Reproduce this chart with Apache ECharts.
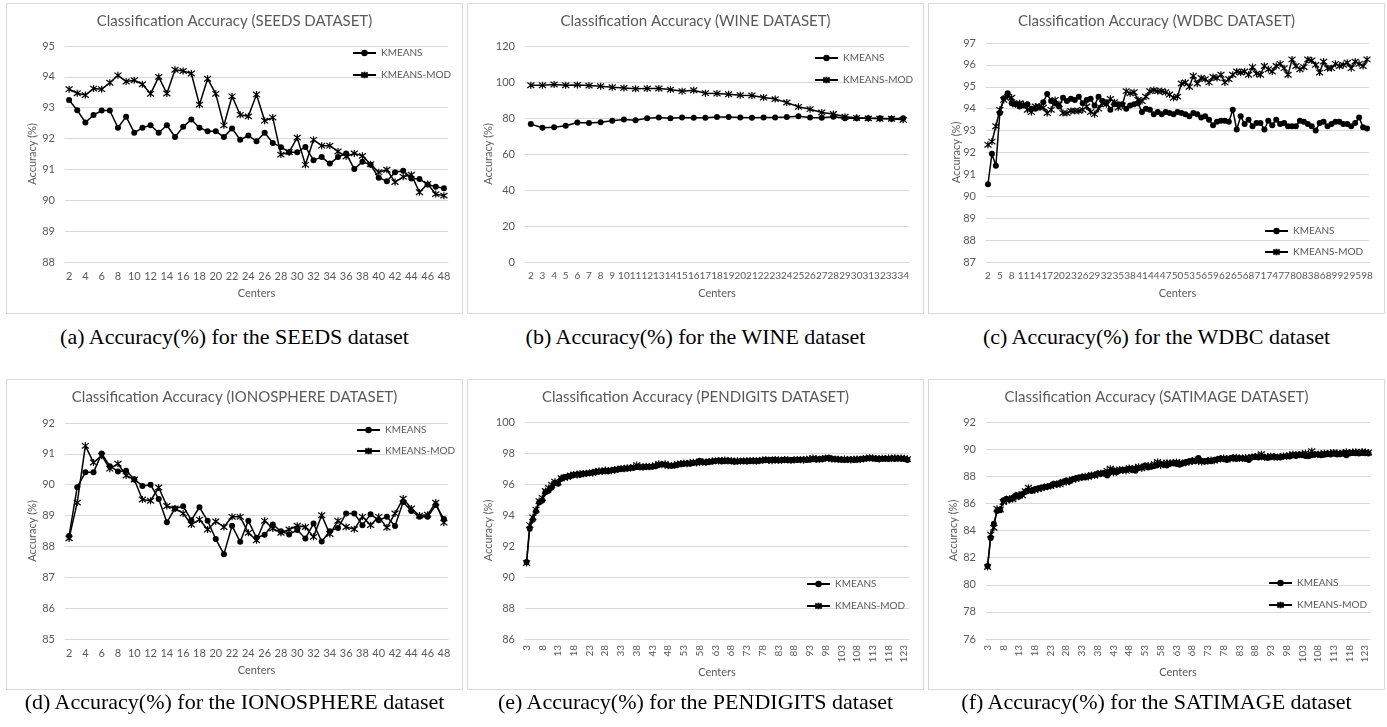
<!DOCTYPE html>
<html>
<head>
<meta charset="utf-8">
<script src="https://cdn.jsdelivr.net/npm/echarts@6/dist/echarts.min.js"></script>
<style>
  html, body { margin: 0; padding: 0; background: #fff; }
  #page { position: relative; width: 1387px; height: 727px; overflow: hidden; }
  .box { position: absolute; width: 457px; height: 311px; box-sizing: border-box; border: 1px solid #d9d9d9; background: #fff; }
  .chart { position: absolute; left: -1px; top: -1px; width: 457px; height: 311px; }
  .caption { position: absolute; width: 457px; text-align: center; font-family: "Liberation Serif", "Times New Roman", serif; font-size: 22px; line-height: 24px; color: #000; white-space: nowrap; }
</style>
</head>
<body>
<div id="page"></div>
<script>
// x categories (centers)
function centers(from, to) {
  const out = []
  for (let i = from; i <= to; i++) out.push(String(i))
  return out
}
const seedsCenters = centers(2, 48)
const wineCenters = centers(2, 34)
const wdbcCenters = centers(2, 98)
const ionoCenters = centers(2, 48)
const pendCenters = centers(3, 124)
const satCenters = centers(3, 124)

// SEEDS
const seedsKmeans = [93.25, 92.92, 92.52, 92.76, 92.91, 92.91, 92.35, 92.71, 92.19, 92.35,
  92.43, 92.19, 92.43, 92.05, 92.38, 92.62, 92.35, 92.24, 92.24, 92.05,
  92.33, 91.96, 92.10, 91.91, 92.19, 91.86, 91.72, 91.56, 91.56, 91.73,
  91.30, 91.40, 91.19, 91.40, 91.52, 91.01, 91.25, 91.15, 90.73, 90.62,
  90.91, 90.96, 90.71, 90.69, 90.51, 90.44, 90.39]
const seedsMod = [93.60, 93.47, 93.41, 93.62, 93.60, 93.81, 94.05, 93.85, 93.89, 93.76,
  93.45, 94.00, 93.46, 94.23, 94.19, 94.11, 93.10, 93.94, 93.45, 92.43,
  93.37, 92.77, 92.72, 93.43, 92.58, 92.68, 91.48, 91.56, 92.03, 91.15,
  91.96, 91.77, 91.77, 91.58, 91.42, 91.52, 91.44, 91.17, 90.91, 90.99,
  90.59, 90.76, 90.83, 90.26, 90.53, 90.20, 90.15]

// WINE
const wineKmeans = [76.6, 74.6, 74.8, 75.7, 77.5, 77.2, 77.7, 78.5, 79.2, 78.8,
  79.9, 80.3, 79.8, 80.3, 80.1, 80.1, 80.5, 80.5, 80.3, 80.1,
  80.3, 80.3, 80.5, 81.0, 80.3, 80.1, 80.7, 79.9, 79.9, 79.8,
  79.8, 79.6, 79.9]
const wineMod = [98.2, 98.2, 98.6, 98.2, 98.4, 98.0, 97.7, 97.1, 96.7, 96.2,
  96.4, 96.4, 95.8, 94.9, 95.4, 93.8, 93.6, 93.2, 92.7, 92.5,
  91.4, 90.5, 88.6, 86.2, 84.9, 83.1, 82.2, 80.7, 80.1, 79.8,
  79.6, 79.6, 79.0]

// WDBC
const wdbcKmeans = [90.55, 91.94, 91.40, 93.80, 94.48, 94.71, 94.25, 94.20, 94.10, 94.15,
  94.20, 94.00, 94.00, 94.05, 94.30, 94.67, 94.35, 94.25, 94.10, 94.50,
  94.35, 94.45, 94.40, 94.55, 94.25, 94.40, 94.45, 94.15, 94.55, 94.35,
  94.30, 93.95, 94.20, 94.20, 94.20, 94.00, 94.15, 94.20, 94.25, 93.85,
  94.00, 93.95, 93.75, 93.85, 93.75, 93.85, 93.80, 93.75, 93.85, 93.80,
  93.75, 93.65, 93.80, 93.75, 93.60, 93.65, 93.50, 93.25, 93.40, 93.45,
  93.45, 93.40, 93.95, 93.05, 93.65, 93.30, 93.50, 93.20, 93.35, 93.35,
  93.05, 93.45, 93.25, 93.50, 93.30, 93.35, 93.20, 93.20, 93.20, 93.45,
  93.40, 93.30, 93.20, 93.00, 93.35, 93.40, 93.20, 93.30, 93.40, 93.40,
  93.30, 93.30, 93.20, 93.35, 93.60, 93.15, 93.10]
const wdbcMod = [92.35, 92.50, 93.20, 93.95, 94.40, 94.55, 94.50, 94.20, 94.25, 94.20,
  93.95, 93.85, 94.10, 94.10, 94.05, 93.80, 93.95, 94.40, 94.20, 93.80,
  93.80, 93.90, 93.90, 93.90, 93.95, 94.10, 93.85, 93.75, 94.00, 94.25,
  94.20, 94.45, 94.30, 94.05, 94.15, 94.80, 94.70, 94.75, 94.40, 94.35,
  94.55, 94.80, 94.85, 94.80, 94.80, 94.75, 94.65, 94.50, 94.55, 95.15,
  95.20, 95.00, 95.50, 95.15, 95.40, 95.35, 95.20, 95.45, 95.40, 95.55,
  95.20, 95.35, 95.55, 95.70, 95.65, 95.70, 95.55, 95.90, 95.60, 95.55,
  95.95, 95.80, 95.70, 95.95, 96.05, 95.85, 95.55, 96.25, 95.95, 95.80,
  95.90, 96.25, 96.20, 96.00, 95.65, 96.15, 95.85, 95.85, 96.05, 95.95,
  96.00, 96.10, 95.85, 96.15, 96.05, 95.95, 96.25]

// IONOSPHERE
const ionoKmeans = [88.34, 89.92, 90.40, 90.40, 91.01, 90.60, 90.43, 90.45, 90.18, 89.96,
  90.00, 89.54, 88.78, 89.23, 89.30, 88.85, 89.27, 88.83, 88.24, 87.75,
  88.67, 88.15, 88.83, 88.28, 88.38, 88.71, 88.49, 88.39, 88.53, 88.26,
  88.74, 88.16, 88.49, 88.60, 89.07, 89.07, 88.69, 89.04, 88.85, 88.96,
  88.66, 89.44, 89.15, 88.96, 88.96, 89.34, 88.89]
const ionoMod = [88.26, 89.42, 91.26, 90.72, 90.94, 90.52, 90.68, 90.30, 90.17, 89.52,
  89.48, 89.91, 89.31, 89.23, 89.07, 88.71, 88.87, 88.55, 88.81, 88.63,
  88.96, 88.96, 88.44, 88.20, 88.83, 88.58, 88.44, 88.55, 88.67, 88.63,
  88.31, 89.01, 88.40, 88.83, 88.63, 88.56, 88.96, 88.69, 88.96, 88.61,
  89.07, 89.55, 89.23, 89.00, 89.03, 89.42, 88.77]

// PENDIGITS
const pendKmeans = [90.96, 93.11, 93.69, 94.23, 94.81, 94.94, 95.46, 95.57, 95.78, 96.06,
  96.02, 96.32, 96.45, 96.48, 96.52, 96.58, 96.62, 96.60, 96.66, 96.68,
  96.70, 96.74, 96.78, 96.80, 96.82, 96.85, 96.83, 96.88, 96.90, 96.93,
  96.96, 96.98, 97.00, 97.03, 97.05, 97.10, 97.08, 97.10, 97.12, 97.10,
  97.12, 97.15, 97.22, 97.28, 97.25, 97.20, 97.16, 97.20, 97.25, 97.28,
  97.30, 97.33, 97.30, 97.35, 97.38, 97.50, 97.40, 97.38, 97.42, 97.45,
  97.48, 97.52, 97.45, 97.47, 97.50, 97.46, 97.44, 97.45, 97.48, 97.46,
  97.45, 97.47, 97.50, 97.48, 97.50, 97.52, 97.55, 97.53, 97.56, 97.55,
  97.52, 97.55, 97.56, 97.54, 97.55, 97.57, 97.55, 97.56, 97.58, 97.55,
  97.57, 97.60, 97.58, 97.62, 97.60, 97.66, 97.70, 97.63, 97.60, 97.58,
  97.57, 97.55, 97.56, 97.58, 97.55, 97.57, 97.60, 97.62, 97.64, 97.66,
  97.65, 97.62, 97.60, 97.62, 97.63, 97.61, 97.64, 97.62, 97.65, 97.63,
  97.62, 97.55]
const pendMod = [90.90, 93.35, 93.85, 94.35, 94.90, 95.10, 95.55, 95.75, 95.95, 96.15,
  96.10, 96.38, 96.40, 96.45, 96.55, 96.62, 96.58, 96.68, 96.64, 96.70,
  96.72, 96.70, 96.80, 96.85, 96.80, 96.90, 96.86, 96.85, 96.92, 96.95,
  97.00, 96.98, 97.05, 97.02, 97.10, 97.22, 97.12, 97.08, 97.15, 97.12,
  97.15, 97.20, 97.30, 97.25, 97.30, 97.18, 97.20, 97.22, 97.28, 97.32,
  97.35, 97.30, 97.38, 97.40, 97.35, 97.45, 97.42, 97.40, 97.45, 97.48,
  97.50, 97.48, 97.52, 97.55, 97.48, 97.52, 97.45, 97.50, 97.46, 97.50,
  97.48, 97.52, 97.50, 97.46, 97.52, 97.55, 97.58, 97.52, 97.50, 97.58,
  97.55, 97.52, 97.58, 97.56, 97.52, 97.55, 97.58, 97.56, 97.54, 97.60,
  97.62, 97.68, 97.62, 97.58, 97.64, 97.68, 97.66, 97.60, 97.62, 97.60,
  97.58, 97.62, 97.58, 97.55, 97.60, 97.62, 97.58, 97.64, 97.66, 97.70,
  97.68, 97.65, 97.62, 97.66, 97.64, 97.68, 97.66, 97.70, 97.66, 97.68,
  97.66, 97.60]

// SATIMAGE
const satKmeans = [81.39, 83.45, 84.50, 85.44, 85.49, 86.23, 86.35, 86.28, 86.42, 86.60,
  86.50, 86.70, 86.84, 86.96, 86.92, 87.05, 87.10, 87.15, 87.20, 87.22,
  87.30, 87.45, 87.40, 87.50, 87.55, 87.68, 87.62, 87.78, 87.85, 87.90,
  87.95, 87.90, 88.00, 88.05, 88.10, 88.20, 88.18, 88.25, 88.05, 88.30,
  88.45, 88.30, 88.42, 88.48, 88.50, 88.55, 88.45, 88.40, 88.60, 88.65,
  88.80, 88.65, 88.70, 88.75, 88.85, 88.90, 88.85, 88.80, 88.92, 88.95,
  88.90, 88.85, 88.95, 89.05, 89.10, 89.15, 89.10, 89.35, 89.15, 89.10,
  89.15, 89.10, 89.20, 89.25, 89.30, 89.25, 89.20, 89.30, 89.38, 89.28,
  89.35, 89.30, 89.28, 89.20, 89.40, 89.42, 89.38, 89.45, 89.40, 89.35,
  89.40, 89.45, 89.42, 89.38, 89.45, 89.48, 89.45, 89.55, 89.50, 89.58,
  89.55, 89.50, 89.48, 89.55, 89.62, 89.60, 89.55, 89.58, 89.62, 89.60,
  89.65, 89.60, 89.62, 89.70, 89.55, 89.68, 89.72, 89.70, 89.68, 89.72,
  89.70, 89.68]
const satMod = [81.30, 83.70, 84.20, 85.60, 85.55, 86.10, 86.20, 86.35, 86.30, 86.45,
  86.65, 86.60, 86.90, 87.15, 86.95, 87.00, 87.05, 87.12, 87.18, 87.25,
  87.28, 87.35, 87.45, 87.40, 87.60, 87.55, 87.70, 87.75, 87.80, 87.85,
  87.92, 88.00, 87.95, 88.10, 88.05, 88.15, 88.22, 88.20, 88.40, 88.55,
  88.25, 88.38, 88.50, 88.45, 88.40, 88.60, 88.55, 88.62, 88.70, 88.58,
  88.72, 88.80, 88.75, 88.90, 89.05, 88.80, 88.95, 89.00, 88.98, 89.00,
  89.05, 89.00, 88.95, 89.00, 89.05, 89.10, 89.20, 89.15, 89.05, 89.08,
  89.12, 89.20, 89.15, 89.22, 89.30, 89.35, 89.30, 89.28, 89.35, 89.40,
  89.30, 89.32, 89.38, 89.35, 89.42, 89.45, 89.50, 89.62, 89.40, 89.45,
  89.48, 89.42, 89.40, 89.45, 89.50, 89.48, 89.55, 89.62, 89.55, 89.60,
  89.65, 89.70, 89.62, 89.85, 89.60, 89.62, 89.65, 89.70, 89.68, 89.72,
  89.75, 89.70, 89.65, 89.72, 89.80, 89.75, 89.78, 89.80, 89.75, 89.82,
  89.78, 89.75]

const seriesNames = ['KMEANS', 'KMEANS-MOD']
const FONT = 'Lato, "Open Sans", sans-serif'
const GREY = '#595959'
const GRID_LINE = '#d9d9d9'
const STAR = 'path://M0,0L10,10M10,0L0,10M5,-1.5L5,11.5'

// 6 panels, positions are relative to the page / box
// every = show one x label out of every N categories
const panels = [
  { name: 'SEEDS', left: 6, top: 3, capTop: 325, cats: seedsCenters, km: seedsKmeans, mod: seedsMod,
    min: 88, max: 95, step: 1, every: 2, rotate: 0, xFont: 11,
    grid: { left: 59, top: 43, right: 15, bottom: 52 }, legend: { left: 346, top: 45, gap: 12 },
    yGap: 27, caption: '(a) Accuracy(%) for the SEEDS dataset' },
  { name: 'WINE', left: 467, top: 3, capTop: 325, cats: wineCenters, km: wineKmeans, mod: wineMod,
    min: 0, max: 120, step: 20, every: 1, rotate: 0, xFont: 10,
    grid: { left: 58, top: 43, right: 15, bottom: 52 }, legend: { left: 347, top: 50, gap: 12 },
    yGap: 31, caption: '(b) Accuracy(%) for the WINE dataset' },
  { name: 'WDBC', left: 928, top: 3, capTop: 325, cats: wdbcCenters, km: wdbcKmeans, mod: wdbcMod,
    min: 87, max: 97, step: 1, every: 3, rotate: 0, xFont: 10,
    grid: { left: 58, top: 40, right: 16, bottom: 52 }, legend: { left: 336, top: 223, gap: 11 },
    yGap: 24, caption: '(c) Accuracy(%) for the WDBC dataset' },
  { name: 'IONOSPHERE', left: 6, top: 379, capTop: 690, cats: ionoCenters, km: ionoKmeans, mod: ionoMod,
    min: 85, max: 92, step: 1, every: 2, rotate: 0, xFont: 11,
    grid: { left: 59, top: 44, right: 15, bottom: 51 }, legend: { left: 350, top: 46, gap: 11 },
    yGap: 27, caption: '(d) Accuracy(%) for the IONOSPHERE dataset' },
  { name: 'PENDIGITS', left: 467, top: 379, capTop: 690, cats: pendCenters, km: pendKmeans, mod: pendMod,
    min: 86, max: 100, step: 2, every: 5, rotate: 90, xFont: 10,
    grid: { left: 58, top: 43, right: 15, bottom: 51 }, legend: { left: 339, top: 200, gap: 12 },
    yGap: 31, caption: '(e) Accuracy(%) for the PENDIGITS dataset' },
  { name: 'SATIMAGE', left: 928, top: 379, capTop: 690, cats: satCenters, km: satKmeans, mod: satMod,
    min: 76, max: 92, step: 2, every: 5, rotate: 90, xFont: 10,
    grid: { left: 58, top: 43, right: 15, bottom: 51 }, legend: { left: 340, top: 199, gap: 12 },
    yGap: 27, caption: '(f) Accuracy(%) for the SATIMAGE dataset' }
]

function makeChart(el, p) {
  const myChart = echarts.init(el, null, { renderer: 'canvas' })
  myChart.setOption({
    animation: false,
    textStyle: { fontFamily: FONT },
    title: {
      text: 'Classification Accuracy (' + p.name + ' DATASET)',
      left: 'center', top: 11, padding: 0,
      textStyle: { fontFamily: FONT, fontSize: 15, fontWeight: 'normal', color: GREY }
    },
    legend: {
      orient: 'vertical', left: p.legend.left, top: p.legend.top, padding: 0,
      itemWidth: 23, itemHeight: 8, itemGap: p.legend.gap,
      textStyle: { fontFamily: FONT, fontSize: 10, color: GREY },
      data: seriesNames
    },
    grid: Object.assign({ containLabel: false, outerBoundsMode: 'none' }, p.grid),
    xAxis: {
      type: 'category',
      data: p.cats,
      boundaryGap: true,
      name: 'Centers', nameLocation: 'middle', nameGap: p.rotate ? 28 : 26,
      nameMoveOverlap: false,
      nameTextStyle: { fontFamily: FONT, fontSize: 11, color: GREY },
      axisLine: { lineStyle: { color: GRID_LINE, width: 1 } },
      axisTick: { show: false },
      axisLabel: { interval: (i) => i % p.every === 0, rotate: p.rotate, margin: p.rotate ? 6 : 9,
        fontFamily: FONT, fontSize: p.xFont, color: GREY, hideOverlap: false },
      splitLine: { show: false }
    },
    yAxis: {
      type: 'value', min: p.min, max: p.max, interval: p.step,
      name: 'Accuracy (%)', nameLocation: 'middle', nameGap: p.yGap,
      nameMoveOverlap: false,
      nameTextStyle: { fontFamily: FONT, fontSize: 11, color: GREY },
      axisLine: { show: false }, axisTick: { show: false },
      axisLabel: { margin: 10, fontFamily: FONT, fontSize: 11, color: GREY },
      splitLine: { lineStyle: { color: GRID_LINE, width: 1 } }
    },
    series: [
      {
        name: seriesNames[0], type: 'line', data: p.km,
        symbol: 'circle', symbolSize: 6, showAllSymbol: true,
        lineStyle: { color: '#000', width: 1.5 },
        itemStyle: { color: '#000' }
      },
      {
        name: seriesNames[1], type: 'line', data: p.mod,
        symbol: STAR, symbolSize: 7, showAllSymbol: true,
        lineStyle: { color: '#000', width: 1.5 },
        itemStyle: { color: '#000', borderColor: '#000', borderWidth: 1.2 }
      }
    ]
  })
  return myChart
}

const page = document.getElementById('page')
panels.forEach(p => {
  const box = document.createElement('div')
  box.className = 'box'
  box.style.left = p.left + 'px'
  box.style.top = p.top + 'px'
  const el = document.createElement('div')
  el.className = 'chart'
  box.appendChild(el)
  page.appendChild(box)
  const cap = document.createElement('div')
  cap.className = 'caption'
  cap.style.left = p.left + 'px'
  cap.style.top = p.capTop + 'px'
  cap.textContent = p.caption
  page.appendChild(cap)
  makeChart(el, p)
})
</script>
</body>
</html>
